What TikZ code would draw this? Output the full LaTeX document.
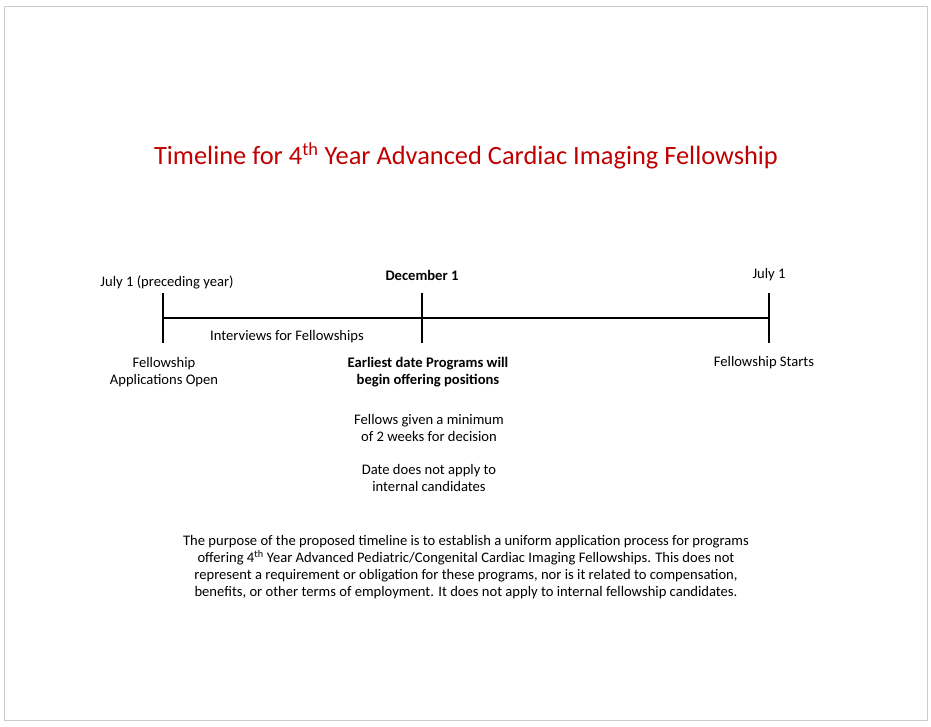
\documentclass[tikz,border=0pt]{standalone}
\usepackage{fontspec}
\setmainfont{Carlito}
\definecolor{titlered}{RGB}{192,0,0}
\begin{document}
\begin{tikzpicture}[x=1pt,y=-1pt,
  lbl/.style={font=\fontsize{14.6}{17}\selectfont,align=center},
  tick/.style={line width=2.2pt}]
\useasboundingbox (0,0) rectangle (931,726);
\draw[gray!40] (4,6) rectangle (927,720);

\node[text=titlered,font=\fontsize{26.4}{30}\selectfont] (title) at (466,156)
  {Timeline for 4\textsuperscript{th} Year Advanced Cardiac Imaging Fellowship};

\coordinate (start) at (163,318);
\coordinate (dec) at (422,318);
\coordinate (end) at (769,318);
\draw[tick] (start) -- (end);
\foreach \p in {start,dec,end}
  \draw[tick] ([yshift=-25]\p) -- ([yshift=25]\p);

\node[lbl] (jul0) at (167,282) {July 1 (preceding year)};
\node[lbl,font=\fontsize{14.6}{17}\selectfont\bfseries] (dec1) at (422,275) {December 1};
\node[lbl] (jul1) at (769,275) {July 1};
\node[lbl] (interv) at (287,337) {Interviews for Fellowships};

\node[lbl] (open) at (164,372) {Fellowship\\Applications Open};
\node[lbl,font=\fontsize{14.6}{17}\selectfont\bfseries] (earliest) at (428,372)
  {Earliest date Programs will\\begin offering positions};
\node[lbl] (fellows) at (429,428) {Fellows given a minimum\\of 2 weeks for decision};
\node[lbl] (internal) at (429,478) {Date does not apply to\\internal candidates};
\node[lbl] (starts) at (764,363) {Fellowship Starts};

\node[lbl] (purpose) at (466,567)
  {The purpose of the proposed timeline is to establish a uniform application process for programs\\
   offering 4\textsuperscript{th} Year Advanced Pediatric/Congenital Cardiac Imaging Fellowships. This does not\\
   represent a requirement or obligation for these programs, nor is it related to compensation,\\
   benefits, or other terms of employment. It does not apply to internal fellowship candidates.};
\end{tikzpicture}
\end{document}
